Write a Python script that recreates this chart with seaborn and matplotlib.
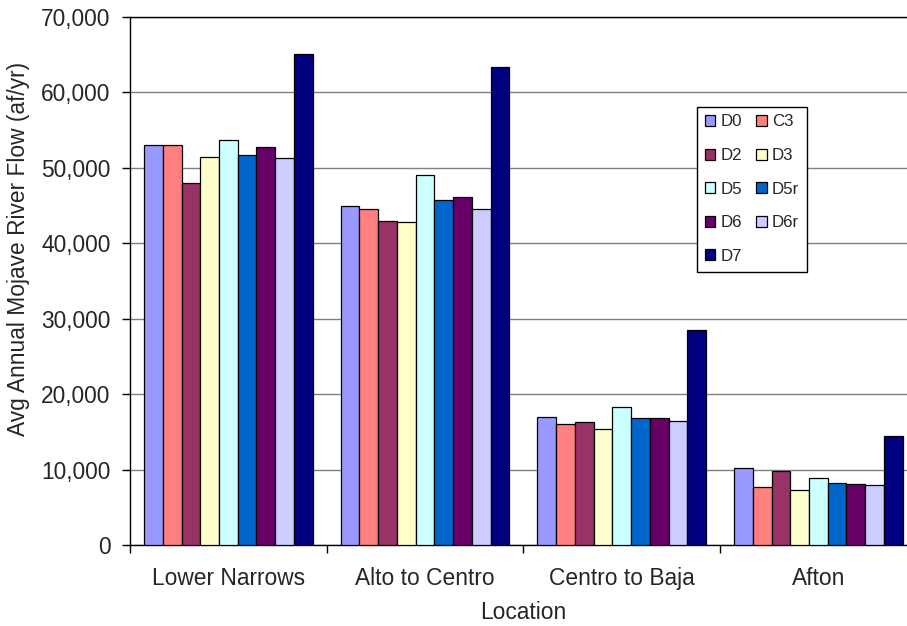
import matplotlib
matplotlib.use("Agg")
import matplotlib.pyplot as plt
import seaborn as sns
import pandas as pd
from matplotlib.patches import Patch
from matplotlib.ticker import FuncFormatter

locations = ["Lower Narrows", "Alto to Centro", "Centro to Baja", "Afton"]
scenarios = ["D0", "C3", "D2", "D3", "D5", "D5r", "D6", "D6r", "D7"]
values = {
    "D0":  [53000, 44900, 16950, 10150],
    "C3":  [53000, 44600, 16000, 7700],
    "D2":  [47950, 42950, 16300, 9800],
    "D3":  [51500, 42800, 15400, 7300],
    "D5":  [53700, 49000, 18300, 8900],
    "D5r": [51700, 45800, 16900, 8200],
    "D6":  [52800, 46100, 16900, 8100],
    "D6r": [51300, 44600, 16400, 7900],
    "D7":  [65050, 63400, 28500, 14400],
}
colors = ["#9999FF", "#FF8080", "#993366", "#FFFFCC", "#CCFFFF",
          "#0066CC", "#660066", "#CCCCFF", "#000080"]
y_ticks = [0, 10000, 20000, 30000, 40000, 50000, 60000, 70000]

rows = []
for s in scenarios:
    for loc, v in zip(locations, values[s]):
        rows.append({"Location": loc, "Scenario": s, "Flow": v})
df = pd.DataFrame(rows)

sns.set_style("white")
plt.rcParams["font.family"] = ["Liberation Sans", "DejaVu Sans"]

fig = plt.figure(figsize=(9.07, 6.26), dpi=100)
ax = fig.add_axes([130 / 907, (626 - 545) / 626, 786.7 / 907, 528 / 626])

sns.barplot(data=df, x="Location", y="Flow", hue="Scenario",
            order=locations, hue_order=scenarios, palette=colors,
            width=0.857, gap=0, edgecolor="black", linewidth=0.9,
            saturation=1, errorbar=None, ax=ax, legend=False, zorder=3)

ax.set_ylim(0, 70000)
ax.set_xlim(-0.5, 3.5)
ax.set_yticks(y_ticks)
ax.yaxis.set_major_formatter(FuncFormatter(lambda v, p: f"{int(v):,}"))
ax.yaxis.grid(True, color="#808080", linewidth=1.0, zorder=0)
ax.set_axisbelow(True)

for side in ["left", "bottom", "top"]:
    ax.spines[side].set_visible(True)
    ax.spines[side].set_color("black")
    ax.spines[side].set_linewidth(1.0)
ax.spines["right"].set_visible(False)

# category tick marks at group boundaries, labels centered
ax.set_xticks([-0.5, 0.5, 1.5, 2.5, 3.5])
ax.set_xticklabels([])
ax.set_xticks([0, 1, 2, 3], minor=True)
ax.set_xticklabels(locations, minor=True, fontsize=16.4)
ax.tick_params(axis="x", which="major", direction="out", length=6, width=1,
               color="black", bottom=True)
ax.tick_params(axis="x", which="minor", length=0, pad=16)
ax.tick_params(axis="y", direction="out", length=6, width=1, color="black",
               left=True, pad=8, labelsize=16.4)

ax.set_xlabel("Location", fontsize=16.4, labelpad=8)
ax.set_ylabel("Avg Annual Mojave River Flow (af/yr)", fontsize=16.4)
ax.yaxis.set_label_coords(-0.127, 0.56)

handles = {s: Patch(facecolor=c, edgecolor="black", linewidth=0.9)
           for s, c in zip(scenarios, colors)}
order = ["D0", "D2", "D5", "D6", "D7", "C3", "D3", "D5r", "D6r"]
leg = ax.legend([handles[s] for s in order], order, ncol=2,
                loc="upper left", bbox_to_anchor=(0.7207, 0.83),
                fontsize=12.2, frameon=True, fancybox=False,
                edgecolor="black", framealpha=1,
                handlelength=0.62, handleheight=0.62, handletextpad=0.3,
                columnspacing=0.85, labelspacing=1.1, borderpad=0.45,
                borderaxespad=0)
leg.get_frame().set_linewidth(1.0)

fig.savefig("out.png", dpi=100)
